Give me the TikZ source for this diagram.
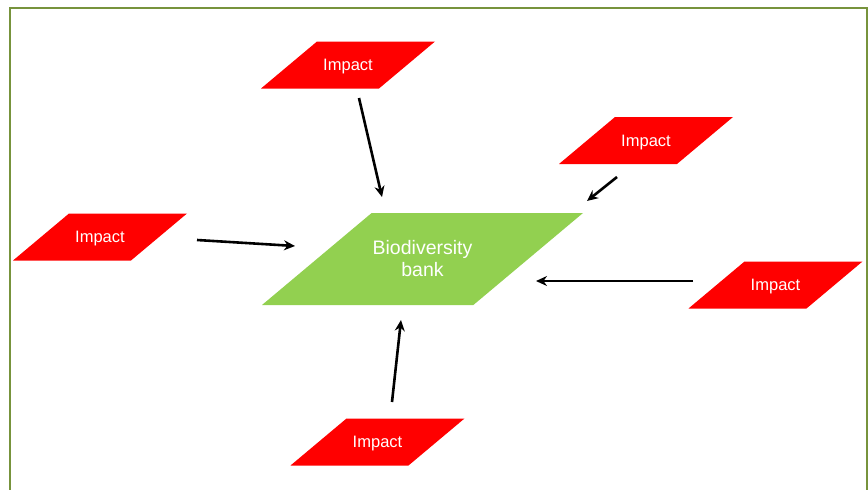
\documentclass[tikz,border=0pt]{standalone}
\usepackage{fontspec}
\setmainfont{Liberation Sans}
\usetikzlibrary{shapes.geometric,arrows.meta}
\definecolor{impactred}{RGB}{255,0,0}
\definecolor{bankgreen}{RGB}{146,208,80}
\definecolor{framegreen}{RGB}{119,147,60}
\tikzset{
	slanted/.style={trapezium, trapezium left angle=40, trapezium right angle=140, trapezium stretches body, outer sep=0pt, inner xsep=0pt},
	impact/.style={slanted, minimum width=174pt, inner ysep=17.6pt, text height=11.8pt, text depth=0pt, fill=impactred, text=white, font=\fontsize{16.5}{19}\selectfont},
	bank/.style={slanted, minimum width=321pt, inner ysep=46pt, text height=0pt, text depth=0pt, fill=bankgreen},
	banktext/.style={text=white, align=center, font=\fontsize{19.5}{22}\selectfont},
	arr/.style={-{Stealth[length=11pt,width=10pt]}, line width=2.6pt, black}
}
\begin{document}
\begin{tikzpicture}[x=1pt,y=-1pt]
		\useasboundingbox (0,0) rectangle (868,490);
		\fill[white] (0,0) rectangle (868,490);
		\draw[framegreen, line width=1.5pt] (10,490) -- (10,8) -- (867,8) -- (867,490);
		
		\node[bank, label={[banktext]center:Biodiversity\\bank}] (bio) at (422.5,259) {};
		\node[impact] (imp1) at (348,65) {Impact};
		\node[impact] (imp2) at (646,140.5) {Impact};
		\node[impact] (imp3) at (100,237) {Impact};
		\node[impact] (imp4) at (775.5,285) {Impact};
		\node[impact] (imp5) at (377.5,442) {Impact};
		
		\draw[arr] ([xshift=11pt,yshift=-33pt]imp1.center) -- ([xshift=-40.5pt,yshift=62pt]bio.center);
		\draw[arr] ([xshift=-29pt,yshift=-36.5pt]imp2.center) -- ([xshift=164.5pt,yshift=58pt]bio.center);
		\draw[arr] ([xshift=97pt,yshift=-3pt]imp3.center) -- ([xshift=-127.5pt,yshift=13pt]bio.center);
		\draw[arr] ([xshift=-82.5pt,yshift=4pt]imp4.center) -- ([xshift=113.5pt,yshift=-22pt]bio.center);
		\draw[arr] ([xshift=14.5pt,yshift=40pt]imp5.center) -- ([xshift=-21.5pt,yshift=-61pt]bio.center);
	\end{tikzpicture}
\end{document}
